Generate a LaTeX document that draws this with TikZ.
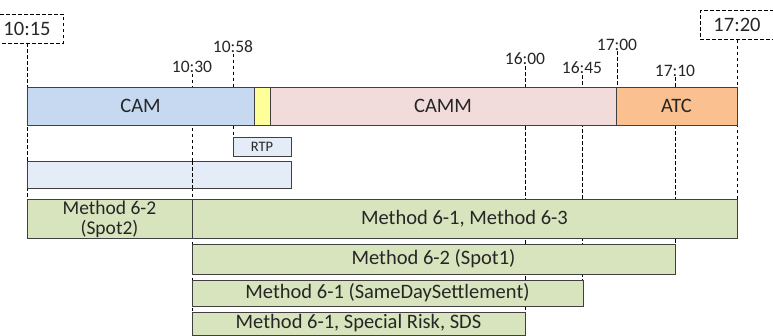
\documentclass[tikz,border=0pt]{standalone}
\usepackage{fontspec}
\setmainfont{Carlito}
\begin{document}
\begin{tikzpicture}[x=1pt,y=-1pt,
  box/.style={draw=black!75, line width=0.8pt, inner sep=0pt, outer sep=0pt, anchor=north west, text=black!85},
  guide/.style={draw=black, line width=0.7pt, dash pattern=on 3.5pt off 2.5pt},
  tlabel/.style={inner sep=1pt, font=\fontsize{17.5}{18}\selectfont, text=black!85},
  endlabel/.style={draw=black, line width=0.7pt, dash pattern=on 3.5pt off 2.5pt, inner xsep=13pt, minimum height=29pt, font=\fontsize{20.5}{22}\selectfont, text=black!85},
  mainfont/.style={font=\fontsize{20.5}{19}\selectfont}
]
\definecolor{camc}{RGB}{198,217,241}
\definecolor{yelc}{RGB}{255,255,153}
\definecolor{cammc}{RGB}{242,220,219}
\definecolor{atcc}{RGB}{250,192,144}
\definecolor{greenc}{RGB}{215,228,189}
\definecolor{lightc}{RGB}{228,236,248}
\useasboundingbox (0,0) rectangle (773,335);
\clip (0,0) rectangle (773,335);

% time labels
\node[endlabel] (t1015) at (27,28.5) {10:15};
\node[endlabel] (t1720) at (737,25) {17:20};
\node[tlabel] (t1030) at (192,67) {10:30};
\node[tlabel] (t1058) at (233,46.5) {10:58};
\node[tlabel] (t1600) at (525,59) {16:00};
\node[tlabel] (t1645) at (582,68) {16:45};
\node[tlabel] (t1700) at (617,44.5) {17:00};
\node[tlabel] (t1710) at (675,70.5) {17:10};

% guide coordinates
\coordinate (b1015) at (27,199);
\coordinate (b1030) at (192,335);
\coordinate (b1058) at (233,137);
\coordinate (b1600) at (525,312);
\coordinate (b1645) at (582,280);
\coordinate (b1710) at (675,244);
\coordinate (b1720) at (737,199);

% guides behind boxes
\draw[guide] (t1015.south) -- (b1015);
\draw[guide] (t1720.south) -- (b1720);
\draw[guide] (t1030.south) -- (b1030);
\draw[guide] (t1058.south) -- (b1058);
\draw[guide] (t1600.south) -- (b1600);
\draw[guide] (t1645.south) -- (b1645);
\draw[guide] (t1710.south) -- (b1710);
\draw[guide] (t1700.south) -- (617,87);

% main bar
\node[box, fill=camc, minimum width=227pt, minimum height=38pt, mainfont] (cam) at (27,87) {CAM};
\node[box, fill=yelc, minimum width=16pt, minimum height=38pt] (rtpbar) at (254,87) {};
\node[box, fill=cammc, minimum width=346pt, minimum height=38pt, mainfont] (camm) at (270,87) {CAMM};
\node[box, fill=atcc, minimum width=121pt, minimum height=38pt, mainfont] (atc) at (616,87) {ATC};

% RTP and light bar
\node[box, fill=lightc, minimum width=58pt, minimum height=19pt, font=\fontsize{14.5}{15}\selectfont] (rtp) at (233,137) {RTP};
\node[box, fill=lightc, minimum width=264pt, minimum height=27pt] (lbar) at (27,161) {};
\draw[guide] (192,161) -- (192,188);

% green boxes
\node[box, fill=greenc, minimum width=165pt, minimum height=39pt] (spot2) at (27,199) {};
\node[font=\fontsize{19.5}{19}\selectfont, text=black!85, inner sep=0pt] (spot2a) at (109.5,207.5) {Method 6-2};
\node[font=\fontsize{19.5}{19}\selectfont, text=black!85, inner sep=0pt] (spot2b) at (109.5,228.5) {(Spot2)};
\node[box, fill=greenc, minimum width=545pt, minimum height=39pt, mainfont] (m613) at (192,199) {Method 6-1, Method 6-3};
\node[box, fill=greenc, minimum width=483pt, minimum height=30pt, mainfont] (spot1) at (192,244) {Method 6-2 (Spot1)};
\node[box, fill=greenc, minimum width=391pt, minimum height=26pt, mainfont] (sds1) at (192,280) {Method 6-1 (SameDaySettlement)};
\node[box, fill=greenc, minimum width=333pt, minimum height=23pt] (sds2) at (192,312) {};
\node[mainfont, text=black!85] (sdstext) at (sds2.center |- 0,323.5) {Method 6-1, Special Risk, SDS};
\end{tikzpicture}
\end{document}
